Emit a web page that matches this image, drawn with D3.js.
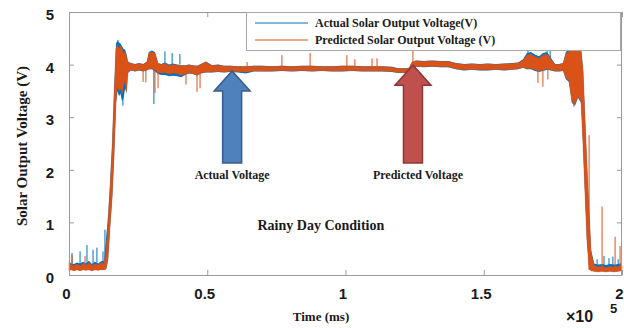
<!DOCTYPE html>
<html>
<head>
<meta charset="utf-8">
<script src="https://cdn.jsdelivr.net/npm/d3@7"></script>
<style>
  html, body { margin: 0; padding: 0; background: #fff; }
  svg { display: block; }
</style>
</head>
<body>
<div id="chart"></div>
<script>
// sample times (ms) and min/max envelope of each trace
const timeMs = [
  0, 700, 1800, 2900, 4000, 5100, 6100, 7200, 8300, 9400, 10500, 11600, 12700,
  13400, 14100, 14800, 15600, 16300, 17000, 17500, 18100, 18600, 19200, 19700,
  20300, 20800, 21300, 22400, 23900, 25300, 26800, 28200, 28900, 30000, 31100,
  32200, 33300, 34700, 36200, 37600, 39100, 40500, 42000, 43400, 44800, 46300,
  47700, 49500, 51700, 53900, 56100, 58200, 61100, 64000, 66900, 69800, 73400,
  77000, 80700, 84300, 87900, 91500, 95100, 98700, 102400, 106000, 109600,
  113200, 116800, 119000, 121200, 123000, 124000, 125500, 128400, 131300,
  134200, 137100, 140000, 142900, 145700, 148600, 151500, 154400, 157300,
  160200, 162400, 164200, 165600, 167100, 168500, 170000, 171400, 172900,
  174300, 175800, 177200, 178700, 179700, 180800, 181900, 183000, 184100,
  185200, 185900, 186600, 187300, 188100, 188800, 189900, 191300, 192800,
  194200, 195700, 197100, 198600, 200000
]
const predictedLo = [
  .08, .10, .08, .10, .08, .10, .09, .10, .08, .10, .09, .10, .10,
  .12, .30, .90, 1.50, 2.30, 3.30, 3.60, 3.50, 3.55, 3.45, 3.60,
  3.70, 3.50, 3.85, 3.90, 3.88, 3.90, 3.88, 3.90, 3.92, 3.92, 3.90,
  3.85, 3.84, 3.85, 3.82, 3.84, 3.83, 3.80, 3.82, 3.84, 3.83, 3.80,
  3.84, 3.86, 3.86, 3.87, 3.86, 3.87, 3.87, 3.86, 3.88, 3.88, 3.88,
  3.89, 3.88, 3.89, 3.88, 3.89, 3.88, 3.88, 3.89, 3.88, 3.88,
  3.88, 3.87, 3.85, 3.85, 3.86, 3.92, 3.97, 3.96, 3.97,
  3.96, 3.96, 3.92, 3.90, 3.91, 3.90, 3.90, 3.91, 3.90,
  3.91, 3.92, 3.95, 3.92, 3.93, 3.90, 3.88, 3.90, 3.92,
  3.90, 3.88, 3.88, 3.89, 3.75, 3.70, 3.30, 3.25, 3.40,
  3.30, 2.50, 1.60, 0.70, 0.12, 0.08, 0.07, 0.06, 0.07,
  0.06, 0.07, 0.06, 0.07, 0.08
]
const predictedHi = [
  .24, .19, .17, .21, .17, .22, .18, .24, .18, .21, .19, .23, .22,
  .45, 1.00, 1.60, 2.40, 3.40, 4.30, 4.38, 4.30, 4.35, 4.30, 4.20,
  4.25, 4.15, 4.05, 4.02, 4.00, 4.02, 4.00, 4.05, 4.22, 4.24, 4.22,
  4.02, 4.00, 4.02, 3.98, 4.00, 3.99, 3.98, 3.98, 3.99, 3.98, 3.97,
  4.00, 4.05, 3.98, 3.99, 3.97, 3.97, 3.96, 3.96, 3.97, 3.97, 3.96,
  3.97, 3.96, 3.97, 3.97, 3.96, 3.96, 3.97, 3.97, 3.96, 3.96,
  3.96, 3.95, 3.92, 3.92, 3.93, 4.04, 4.07, 4.06, 4.07,
  4.06, 4.06, 4.02, 4.00, 4.01, 4.00, 4.01, 4.00, 4.01,
  4.02, 4.03, 4.08, 4.18, 4.20, 4.15, 4.12, 4.18, 4.20,
  4.10, 4.00, 4.00, 4.02, 4.20, 4.25, 4.26, 4.28, 4.28,
  4.25, 3.90, 3.00, 2.10, 1.20, 0.45, 0.18, 0.15, 0.16,
  0.14, 0.16, 0.15, 0.16, 0.18
]
const actualLo = [
  .08, .10, .08, .10, .08, .10, .09, .10, .08, .10, .09, .10, .10,
  .11, .28, .85, 1.45, 2.25, 3.25, 3.50, 3.40, 3.45, 3.30, 3.35,
  3.55, 3.45, 3.84, 3.89, 3.87, 3.89, 3.87, 3.89, 3.91, 3.91, 3.87,
  3.82, 3.80, 3.80, 3.78, 3.79, 3.78, 3.76, 3.80, 3.83, 3.82, 3.79,
  3.83, 3.85, 3.85, 3.86, 3.85, 3.86, 3.85, 3.83, 3.87, 3.87, 3.87,
  3.88, 3.87, 3.88, 3.87, 3.88, 3.87, 3.87, 3.88, 3.87, 3.87,
  3.87, 3.86, 3.84, 3.84, 3.85, 3.91, 3.96, 3.95, 3.96,
  3.95, 3.95, 3.91, 3.89, 3.90, 3.89, 3.89, 3.90, 3.89,
  3.90, 3.91, 3.94, 3.91, 3.91, 3.88, 3.86, 3.88, 3.90,
  3.89, 3.87, 3.87, 3.88, 3.72, 3.67, 3.27, 3.22, 3.37,
  3.27, 2.47, 1.57, 0.67, 0.11, 0.08, 0.07, 0.06, 0.07,
  0.06, 0.07, 0.06, 0.07, 0.08
]
const actualHi = [
  .27, .22, .21, .24, .22, .25, .22, .27, .21, .25, .22, .26, .27,
  .70, 1.10, 1.70, 2.50, 3.50, 4.40, 4.45, 4.42, 4.40, 4.35, 4.30,
  4.28, 4.20, 4.06, 4.03, 4.01, 4.03, 4.01, 4.06, 4.24, 4.27, 4.24,
  4.03, 4.01, 4.04, 4.00, 4.02, 4.00, 3.99, 3.99, 4.00, 3.99, 3.98,
  4.01, 4.06, 3.99, 4.00, 3.98, 3.98, 3.97, 3.97, 3.98, 3.98, 3.97,
  3.98, 3.97, 3.98, 3.98, 3.97, 3.97, 3.98, 3.98, 3.97, 3.97,
  3.97, 3.96, 3.93, 3.93, 3.94, 4.05, 4.08, 4.07, 4.08,
  4.07, 4.07, 4.03, 4.01, 4.02, 4.01, 4.02, 4.01, 4.02,
  4.03, 4.04, 4.10, 4.22, 4.24, 4.19, 4.16, 4.22, 4.24,
  4.13, 4.01, 4.01, 4.03, 4.24, 4.29, 4.30, 4.32, 4.32,
  4.29, 3.93, 3.03, 2.13, 1.23, 0.48, 0.22, 0.20, 0.21,
  0.19, 0.21, 0.20, 0.21, 0.23
]
// isolated single-sample excursions: [time, from, to]
const predictedSpikes = [
  [1100, .1, .38], [5800, .1, .36], [26800, 3.9, 3.67], [27800, 3.9, 3.66],
  [31100, 3.9, 3.46], [32200, 3.9, 3.55], [42300, 3.9, 3.62], [46300, 3.9, 3.48],
  [47400, 3.9, 3.55], [64400, 3.9, 4.05], [77000, 3.95, 4.18], [87200, 3.95, 4.22],
  [100500, 3.95, 4.18], [103400, 3.95, 4.1], [109600, 3.95, 4.12], [111400, 3.95, 4.12],
  [124400, 4.0, 4.42], [169600, 3.95, 3.65], [171400, 3.95, 3.58], [173200, 3.95, 3.72],
  [182600, 3.5, 3.2], [188100, .1, 2.66], [192800, .1, 1.3], [197500, .1, .73],
  [199300, .1, .55]
]
const actualSpikes = [
  [1100, .1, .42], [4000, .1, .45], [6500, .1, .57], [8700, .1, .48],
  [10100, .1, .52], [12300, .1, .45], [13000, .3, .86], [17700, 4.0, 4.47],
  [19500, 3.6, 3.22], [30700, 3.9, 3.25], [34700, 4.0, 4.25], [37300, 4.0, 4.22],
  [40100, 4.0, 4.2], [166000, 4.0, 4.3], [172900, 4.0, 4.32], [174000, 4.0, 4.3],
  [181200, 4.0, 4.33], [183400, 4.0, 4.3], [184400, 4.0, 4.33], [191000, .1, .3],
  [193500, .1, .36], [195300, .1, .32], [196700, .1, .35], [198600, .1, .3]
]
const seriesNames = ['Actual Solar Output Voltage(V)', 'Predicted Solar Output Voltage (V)']
const xTicks = [0, 50000, 100000, 150000, 200000]
const yTicks = [0, 1, 2, 3, 4, 5]
const arrows = [
  { label: 'Actual Voltage', t: 59000, tip: 3.88, base: 2.13, labelT: 59000, labelV: 1.83 },
  { label: 'Predicted Voltage', t: 124400, tip: 3.99, base: 2.13, labelT: 126200, labelV: 1.83 }
]
const note = { label: 'Rainy Day Condition', t: 91100, v: 0.86 }

const colors = { actual: '#0072BD', predicted: '#D95319' }
const arrowStyle = [
  { fill: '#4F81BD', stroke: '#385D8A' },
  { fill: '#C0504D', stroke: '#8C3836' }
]
const sans = '"Liberation Sans", Arial, sans-serif'
const serif = '"Liberation Serif", "Times New Roman", serif'

const W = 624
const H = 328
const margin = { top: 12, right: 2, bottom: 53, left: 69 }
const width = W - margin.left - margin.right
const height = H - margin.top - margin.bottom

const svg = d3.select('#chart').append('svg').attr('width', W).attr('height', H)
const g = svg.append('g').attr('transform', `translate(${margin.left},${margin.top})`)

const x = d3.scaleLinear().domain([0, 200000]).range([0, width])
const y = d3.scaleLinear().domain([0, 5]).range([height, 0])

const rows = timeMs.map((t, i) => ({
  t, pLo: predictedLo[i], pHi: predictedHi[i], aLo: actualLo[i], aHi: actualHi[i]
}))

const plot = g.append('g')

function drawTrace(lo, hi, spikes, color, edge) {
  const area = d3.area().x((d) => x(d.t)).y0((d) => y(d[lo])).y1((d) => y(d[hi]))
  plot.append('path').datum(rows)
    .attr('d', area)
    .attr('fill', color)
    .attr('stroke', edge ? color : 'none')
    .attr('stroke-width', edge)
    .attr('stroke-linejoin', 'bevel')
  plot.selectAll(null).data(spikes).join('line')
    .attr('x1', (d) => x(d[0])).attr('x2', (d) => x(d[0]))
    .attr('y1', (d) => y(d[1])).attr('y2', (d) => y(d[2]))
    .attr('stroke', color)
    .attr('stroke-width', 1)
}
drawTrace('aLo', 'aHi', actualSpikes, colors.actual, 0)
drawTrace('pLo', 'pHi', predictedSpikes, colors.predicted, 0.5)

// box + inward ticks on all four sides
const axisColor = '#9a9a9a'
function styleAxis(sel) {
  sel.select('.domain').remove()
  sel.selectAll('.tick line').attr('stroke', axisColor)
  sel.selectAll('.tick text')
    .attr('fill', '#1a1a1a')
    .attr('font-family', sans)
    .attr('font-weight', 'bold')
    .attr('font-size', 15)
}
g.append('g').attr('transform', `translate(0,${height})`)
  .call(d3.axisBottom(x).tickValues(xTicks).tickSizeInner(-5).tickSizeOuter(0).tickPadding(13)
    .tickFormat((d) => d3.format('~g')(d / 1e5)))
  .call(styleAxis)
  .call((s) => s.selectAll('.tick text').attr('dx', -3))
g.append('g')
  .call(d3.axisTop(x).tickValues(xTicks).tickSizeInner(-5).tickSizeOuter(0).tickFormat(''))
  .call(styleAxis)
g.append('g')
  .call(d3.axisLeft(y).tickValues(yTicks).tickSizeInner(-5).tickSizeOuter(0).tickPadding(15)
    .tickFormat(d3.format('d')))
  .call(styleAxis)
  .call((s) => s.selectAll('.tick text').attr('dy', '0.5em'))
g.append('g').attr('transform', `translate(${width},0)`)
  .call(d3.axisRight(y).tickValues(yTicks).tickSizeInner(-5).tickSizeOuter(0).tickFormat(''))
  .call(styleAxis)
g.append('rect')
  .attr('x', 0.5).attr('y', 0.5)
  .attr('width', width - 1).attr('height', height)
  .attr('fill', 'none')
  .attr('stroke', axisColor)

// axis titles
g.append('text')
  .attr('x', 252).attr('y', height + 46)
  .attr('text-anchor', 'middle')
  .attr('font-family', serif).attr('font-weight', 'bold').attr('font-size', 13)
  .attr('fill', '#1a1a1a')
  .text('Time (ms)')
svg.append('text')
  .attr('transform', 'translate(27,146) rotate(-90)')
  .attr('text-anchor', 'middle')
  .attr('font-family', serif).attr('font-weight', 'bold').attr('font-size', 15)
  .attr('fill', '#1a1a1a')
  .text('Solar Output Voltage (V)')
const expo = svg.append('text')
  .attr('x', 566).attr('y', 322)
  .attr('font-family', sans).attr('font-weight', 'bold').attr('font-size', 16)
  .attr('fill', '#1a1a1a')
expo.append('tspan').text('\u00d710')
expo.append('tspan').attr('x', 610).attr('y', 313).attr('font-size', 13).text('5')

// legend
const legend = g.append('g').attr('transform', 'translate(177,0)')
legend.append('rect')
  .attr('x', 0.5).attr('y', 0.5).attr('width', 374).attr('height', 38)
  .attr('fill', '#fff').attr('stroke', '#a8a8a8')
seriesNames.forEach((name, i) => {
  const ly = 11 + i * 17
  legend.append('line')
    .attr('x1', 9).attr('x2', 62).attr('y1', ly).attr('y2', ly)
    .attr('stroke', i === 0 ? colors.actual : colors.predicted)
    .attr('stroke-width', 1)
  legend.append('text')
    .attr('x', 69).attr('y', ly + 4)
    .attr('font-family', serif).attr('font-weight', 'bold').attr('font-size', 12)
    .attr('fill', '#1a1a1a')
    .text(name)
})

// annotation arrows
const headLen = 20
const headHalf = 18
const shaftHalf = 9.5
arrows.forEach((a, i) => {
  const cx = x(a.t)
  const ty = y(a.tip)
  const by = y(a.base)
  const pts = [
    [cx, ty], [cx + headHalf, ty + headLen], [cx + shaftHalf, ty + headLen],
    [cx + shaftHalf, by], [cx - shaftHalf, by], [cx - shaftHalf, ty + headLen],
    [cx - headHalf, ty + headLen]
  ]
  g.append('path')
    .attr('d', d3.line()(pts) + 'Z')
    .attr('fill', arrowStyle[i].fill)
    .attr('stroke', arrowStyle[i].stroke)
    .attr('stroke-width', 1.5)
  g.append('text')
    .attr('x', x(a.labelT)).attr('y', y(a.labelV))
    .attr('text-anchor', 'middle')
    .attr('font-family', serif).attr('font-weight', 'bold').attr('font-size', 12)
    .attr('fill', '#1a1a1a')
    .text(a.label)
})
g.append('text')
  .attr('x', x(note.t)).attr('y', y(note.v))
  .attr('text-anchor', 'middle')
  .attr('font-family', serif).attr('font-weight', 'bold').attr('font-size', 14)
  .attr('fill', '#1a1a1a')
  .text(note.label)
</script>
</body>
</html>
